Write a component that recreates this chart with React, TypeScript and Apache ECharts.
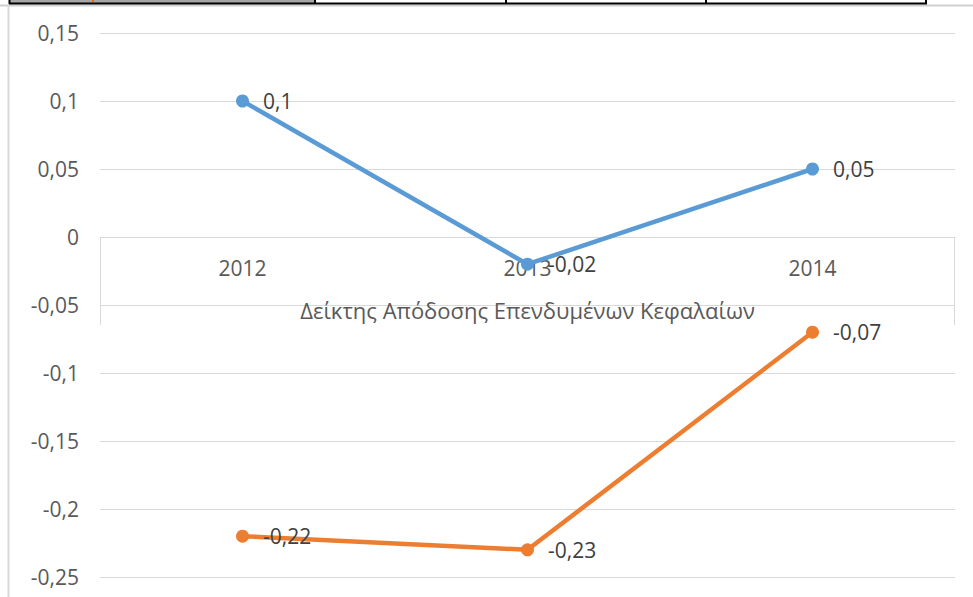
import React, { useEffect, useRef } from "react";
import * as echarts from "echarts";

// Chart data
const categories = ["2012", "2013", "2014"];
const seriesOneValues = [0.1, -0.02, 0.05];
const seriesTwoValues = [-0.22, -0.23, -0.07];
const seriesNames = ["Σειρά 1", "Σειρά 2"];
const axisTitle = "Δείκτης Απόδοσης Επενδυμένων Κεφαλαίων";
const yMin = -0.25;
const yMax = 0.15;
const yStep = 0.05;

const W = 973;
const H = 597;
const GRID = { left: 100, right: 18, top: 33, bottom: 20 };
const FONT = "'Open Sans', 'Noto Sans', sans-serif";
const GRID_COLOR = "#d9d9d9";

// Greek locale decimal comma
const fmt = (v: number) => {
  const s = parseFloat(v.toFixed(2)).toString();
  return s.replace(".", ",");
};

export default function App() {
  const ref = useRef<HTMLDivElement>(null);

  useEffect(() => {
    if (!ref.current) return;
    const chart = echarts.init(ref.current, undefined, { renderer: "svg" });

    const plotH = H - GRID.top - GRID.bottom;
    const zeroY = GRID.top + ((yMax - 0) / (yMax - yMin)) * plotH;
    const plotBottom = H - GRID.bottom;
    const plotRight = W - GRID.right;

    const lineSeries = (name: string, data: number[], color: string) => ({
      name,
      type: "line",
      data,
      symbol: "circle",
      symbolSize: 13,
      lineStyle: { color, width: 4.5 },
      itemStyle: { color },
      z: 3,
      label: {
        show: true,
        position: "right",
        distance: 14,
        formatter: (p: any) => fmt(p.value as number),
        color: "#404040",
        fontSize: 21,
        fontFamily: FONT,
      },
    });

    chart.setOption({
      animation: false,
      backgroundColor: "#ffffff",
      grid: { ...GRID, containLabel: false, outerBoundsMode: "none" },
      xAxis: {
        type: "category",
        data: categories,
        boundaryGap: true,
        // category axis sits on the zero line
        offset: -(plotBottom - zeroY),
        axisLine: { show: true, onZero: false, lineStyle: { color: GRID_COLOR, width: 1 } },
        axisTick: { show: false },
        axisLabel: { margin: 20, fontSize: 21, color: "#595959", fontFamily: FONT },
        splitLine: { show: false },
        name: axisTitle,
        nameLocation: "middle",
        nameGap: 62,
        nameTextStyle: { fontSize: 22, color: "#595959", fontFamily: FONT },
        z: 1,
      },
      yAxis: {
        type: "value",
        min: yMin,
        max: yMax,
        interval: yStep,
        axisLine: { show: false },
        axisTick: { show: false },
        axisLabel: {
          formatter: (v: number) => fmt(v),
          fontSize: 21,
          color: "#595959",
          fontFamily: FONT,
          margin: 21,
        },
        splitLine: { show: true, lineStyle: { color: GRID_COLOR, width: 1 } },
      },
      series: [
        lineSeries(seriesNames[0], seriesOneValues, "#5b9bd5"),
        lineSeries(seriesNames[1], seriesTwoValues, "#ed7d31"),
      ],
      graphic: [
        // outer chart frame edges
        { type: "line", shape: { x1: 0, y1: 5.5, x2: W, y2: 5.5 }, style: { stroke: "#d0d0d0", lineWidth: 2 }, silent: true },
        { type: "line", shape: { x1: 8.5, y1: 6, x2: 8.5, y2: H }, style: { stroke: "#d9d9d9", lineWidth: 2 }, silent: true },
        // spreadsheet row above the chart
        { type: "rect", shape: { x: 10, y: 0, width: 304, height: 3 }, style: { fill: "#a6a6a6" }, silent: true },
        { type: "line", shape: { x1: 9, y1: 3.5, x2: 927, y2: 3.5 }, style: { stroke: "#000", lineWidth: 2 }, silent: true },
        { type: "line", shape: { x1: 9.5, y1: 0, x2: 9.5, y2: 4 }, style: { stroke: "#000", lineWidth: 2 }, silent: true },
        { type: "line", shape: { x1: 315, y1: 0, x2: 315, y2: 4 }, style: { stroke: "#000", lineWidth: 2 }, silent: true },
        { type: "line", shape: { x1: 506, y1: 0, x2: 506, y2: 4 }, style: { stroke: "#000", lineWidth: 2 }, silent: true },
        { type: "line", shape: { x1: 706, y1: 0, x2: 706, y2: 4 }, style: { stroke: "#000", lineWidth: 2 }, silent: true },
        { type: "line", shape: { x1: 926, y1: 0, x2: 926, y2: 4 }, style: { stroke: "#000", lineWidth: 2 }, silent: true },
        { type: "rect", shape: { x: 92, y: 0, width: 2, height: 2 }, style: { fill: "#e46c0a" }, silent: true },
        // side rules of the category-axis band
        { type: "line", shape: { x1: GRID.left + 0.5, y1: zeroY, x2: GRID.left + 0.5, y2: zeroY + 88 }, style: { stroke: GRID_COLOR, lineWidth: 1 }, silent: true },
        { type: "line", shape: { x1: plotRight - 0.5, y1: zeroY, x2: plotRight - 0.5, y2: zeroY + 88 }, style: { stroke: GRID_COLOR, lineWidth: 1 }, silent: true },
      ],
    });

    return () => chart.dispose();
  }, []);

  return (
    <div
      ref={ref}
      style={{ position: "absolute", left: 0, top: 0, width: W, height: H, background: "#fff" }}
    />
  );
}
